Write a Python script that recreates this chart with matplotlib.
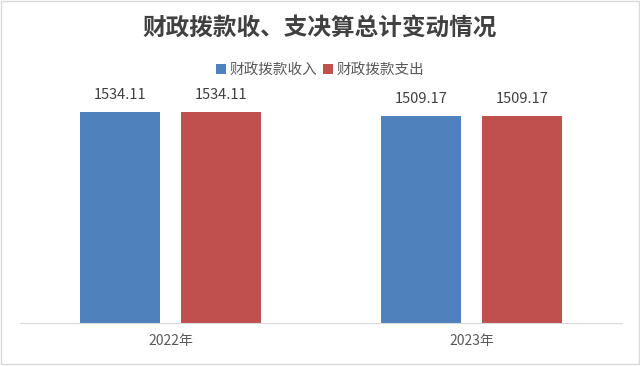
import numpy as np
import matplotlib.pyplot as plt

plt.rcParams['font.family'] = ['Noto Sans CJK SC', 'DejaVu Sans']

years = ['2022年', '2023年']
income = [1534.11, 1509.17]
spend = [1534.11, 1509.17]
series = ['财政拨款收入', '财政拨款支出']

fig = plt.figure(figsize=(6.4, 3.66), dpi=100)
ax = fig.add_axes([20/640, 43/366, 602/640, 247/366])

x = np.arange(len(years))
w = 0.266
b1 = ax.bar(x - 0.167, income, w, color='#4F81BD', label=series[0])
b2 = ax.bar(x + 0.168, spend, w, color='#C0504D', label=series[1])

for bars in (b1, b2):
    for r in bars:
        ax.text(r.get_x() + r.get_width()/2, r.get_height() + 75, f'{r.get_height():.2f}',
                ha='center', va='bottom', fontsize=10.5, color='#404040')

ax.set_xlim(-0.5, 1.5)
ax.set_ylim(0, 1800)
ax.set_yticks([])
ax.set_xticks(x)
ax.set_xticklabels(years, fontsize=10, color='#595959')
ax.tick_params(axis='x', length=0, pad=8)
for s in ['top', 'left', 'right']:
    ax.spines[s].set_visible(False)
ax.spines['bottom'].set_color('#D9D9D9')

fig.text(0.5, 1 - 28/366, '财政拨款收、支决算总计变动情况', ha='center', va='center',
         fontsize=17, fontweight='bold', color='#404040')
fig.legend(loc='center', bbox_to_anchor=(0.5, 1 - 70/366), ncol=2, frameon=False,
           fontsize=10.5, handlelength=0.7, handleheight=0.7, handletextpad=0.2,
           columnspacing=0.4, labelcolor='#595959')

# light frame around the chart
fig.patches.append(plt.Rectangle((0.002, 0.006), 0.996, 0.99, transform=fig.transFigure,
                                 fill=False, edgecolor='#D9D9D9', linewidth=1))

fig.savefig('out.png', dpi=100)
